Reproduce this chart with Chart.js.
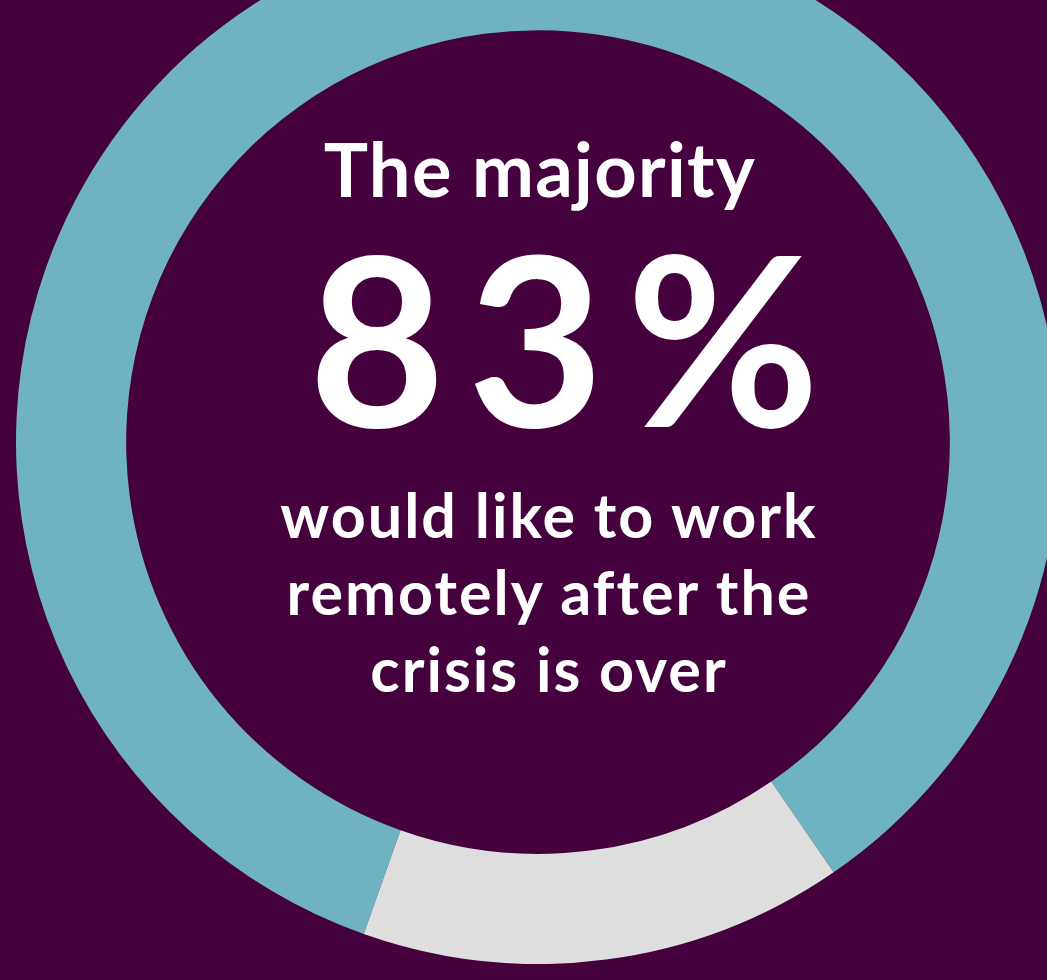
<!DOCTYPE html>
<html>
<head>
<meta charset="utf-8">
<script src="https://cdn.jsdelivr.net/npm/chart.js@4/dist/chart.umd.min.js"></script>
<style>
  html, body { margin: 0; padding: 0; }
  body { width: 1047px; height: 980px; overflow: hidden; background: #45003e; position: relative; font-family: Lato, "Open Sans", sans-serif; color: #fff; }
  #ring { position: absolute; left: 16px; top: -80px; }
  .txt { position: absolute; left: 0; width: 1100px; text-align: center; white-space: nowrap; line-height: 1.2; }
  #kicker { top: 125px; left: -10px; font-size: 74px; font-weight: 700; letter-spacing: 1.3px; }
  #big { top: 194px; left: 25px; font-size: 236px; font-weight: 700; letter-spacing: 22px; }
  #sub { top: 476px; left: -1px; font-size: 61px; font-weight: 700; line-height: 77px; letter-spacing: 2px; }
</style>
</head>
<body>
<canvas id="ring" width="1044" height="1044"></canvas>
<div class="txt" id="kicker">The majority</div>
<div class="txt" id="big">83%</div>
<div class="txt" id="sub">would like to work<br>remotely after the<br>crisis is over</div>
<script>
// Anillo: remoto (teal) vs. el resto (gris).
const categorias = ['Remote after crisis', 'Other'];
const valores = [85, 15];
const colores = ['#6fb3c2', '#dedede'];

new Chart(document.getElementById('ring'), {
  type: 'doughnut',
  data: {
    labels: categorias,
    datasets: [{ data: valores, backgroundColor: colores, borderWidth: 0 }],
  },
  options: {
    responsive: false,
    maintainAspectRatio: false,
    animation: false,
    cutout: '78.9%',
    rotation: 199.5,
    layout: { padding: 0 },
    plugins: { legend: { display: false }, tooltip: { enabled: false } },
  },
});
</script>
</body>
</html>
